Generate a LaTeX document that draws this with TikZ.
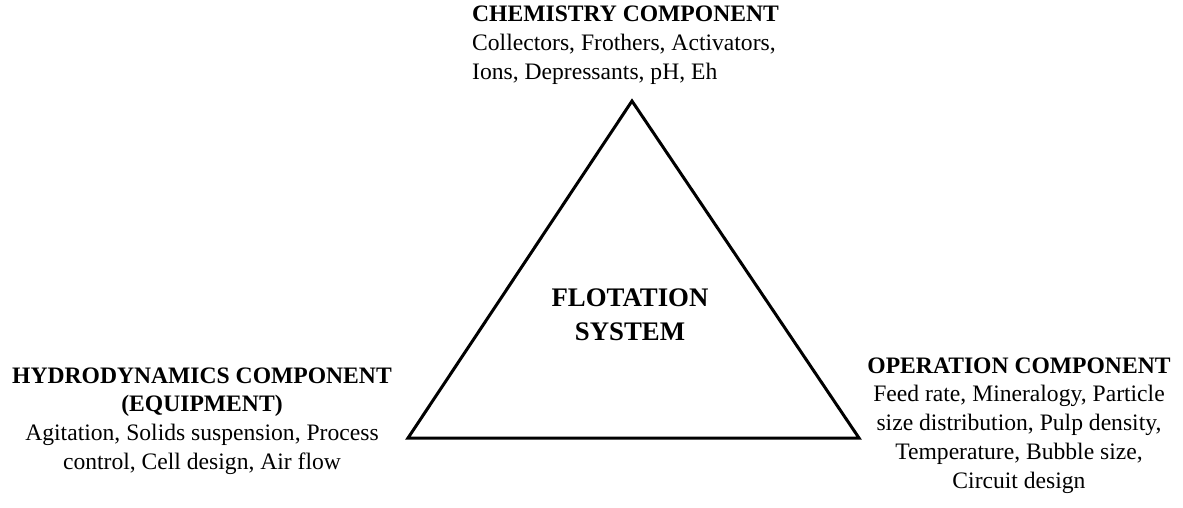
\documentclass[tikz,border=0pt]{standalone}
\usepackage{fontspec}
\setmainfont{Liberation Serif}
\usetikzlibrary{positioning}

\begin{document}
\begin{tikzpicture}[
  x=1pt, y=-1pt,
  label/.style={inner sep=0pt, font=\fontsize{23.6}{28.8}\selectfont},
  line/.style={draw, line width=3pt, line join=miter}
]
\useasboundingbox (0,0) rectangle (1183,507);

% Corners of the triangle
\coordinate (apex) at (632,101);
\coordinate (left) at (408,438);
\coordinate (right) at (859,438);

\draw[line] (apex) -- (left) -- (right) -- cycle;

% Centre
\node[label, align=center, font=\fontsize{26.8}{34}\selectfont\bfseries] (system) at (630,315) {FLOTATION\\SYSTEM};

% Components
\node[label, align=left, anchor=west] (chem) at (472,45) {\textbf{CHEMISTRY COMPONENT}\\Collectors, Frothers, Activators,\\Ions, Depressants, pH, Eh};
\node[label, align=center] (hydro) at (202,421) {\textbf{HYDRODYNAMICS COMPONENT}\\\textbf{(EQUIPMENT)}\\Agitation, Solids suspension, Process\\control, Cell design, Air flow};
\node[label, align=center] (oper) at (1019,425.5) {\textbf{OPERATION COMPONENT}\\Feed rate, Mineralogy, Particle\\size distribution, Pulp density,\\Temperature, Bubble size,\\Circuit design};

\end{tikzpicture}
\end{document}
